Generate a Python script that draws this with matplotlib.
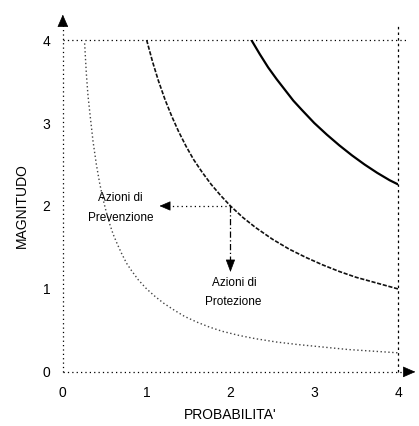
import matplotlib
matplotlib.use('Agg')
import matplotlib.pyplot as plt

plt.rcParams['font.family'] = ['Liberation Sans', 'DejaVu Sans']

# curves (probabilita', magnitudo)
high_x = [2.25, 2.35, 2.45, 2.55, 2.65, 2.75, 2.85, 3.0, 3.15, 3.3, 3.45, 3.6, 3.75, 3.9, 4.0]
high_y = [4.0, 3.83, 3.67, 3.53, 3.4, 3.27, 3.16, 3.0, 2.86, 2.73, 2.61, 2.5, 2.4, 2.31, 2.26]

mid_x = [1.0, 1.07, 1.14, 1.22, 1.3, 1.38, 1.47, 1.56, 1.66, 1.77, 1.88, 2.0, 2.15, 2.3, 2.5,
         2.7, 2.9, 3.1, 3.3, 3.5, 3.75, 4.0]
mid_y = [4.0, 3.74, 3.51, 3.28, 3.08, 2.9, 2.72, 2.56, 2.41, 2.26, 2.13, 2.0, 1.86, 1.74, 1.6,
         1.48, 1.38, 1.29, 1.21, 1.14, 1.07, 1.0]

low_x = [0.26, 0.28, 0.30, 0.33, 0.36, 0.40, 0.44, 0.48, 0.52, 0.56, 0.60, 0.65, 0.70, 0.76,
         0.82, 0.90, 1.0, 1.1, 1.2, 1.32, 1.45, 1.6, 1.75, 1.9, 2.1, 2.3, 2.55, 2.8, 3.1, 3.4,
         3.7, 4.0]
low_y = [3.96, 3.6, 3.33, 3.05, 2.78, 2.5, 2.27, 2.08, 1.92, 1.78, 1.66, 1.54, 1.43, 1.31,
         1.22, 1.11, 1.0, 0.91, 0.83, 0.75, 0.67, 0.6, 0.54, 0.49, 0.44, 0.4, 0.36, 0.33, 0.3,
         0.27, 0.25, 0.23]

ticks = [0, 1, 2, 3, 4]
tick_labels = ['0', '1', '2', '3', '4']

fig = plt.figure(figsize=(4.19, 4.26), dpi=100)
ax = fig.add_axes([0.150, 0.127, 0.800, 0.779])
ax.set_xlim(0, 4)
ax.set_ylim(0, 4)
for s in ax.spines.values():
    s.set_visible(False)

dot = (0, (1, 2.5))
# frame
ax.plot([0, 0], [0, 4.2], color='black', lw=0.9, ls=dot, clip_on=False)
ax.plot([0, 4.12], [0, 0], color='black', lw=0.9, ls=dot, clip_on=False)
ax.plot([0, 4.1], [4, 4], color='black', lw=0.9, ls=dot, clip_on=False)
ax.plot([4, 4], [0, 4.18], color='black', lw=0.9, ls=(0, (2, 2.5)), clip_on=False)

# axis arrow heads
ax.annotate('', xy=(0, 4.34), xytext=(0, 4.15), annotation_clip=False,
            arrowprops=dict(arrowstyle='-|>,head_length=0.8,head_width=0.35', color='black', lw=0.5))
ax.annotate('', xy=(4.24, 0), xytext=(4.08, 0), annotation_clip=False,
            arrowprops=dict(arrowstyle='-|>,head_length=0.8,head_width=0.35', color='black', lw=0.5))

# iso-risk curves
ax.plot(high_x, high_y, color='black', lw=1.6, solid_capstyle='round', solid_joinstyle='round')
ax.plot(mid_x, mid_y, color='#111111', lw=1.2, ls=(0, (2.5, 1)))
ax.plot(low_x, low_y, color='#444444', lw=1.0, ls=(0, (1, 1.8)))

# actions
ax.plot([1.25, 2.0], [2.0, 2.0], color='black', lw=0.9, ls=dot)
ax.annotate('', xy=(1.12, 2.0), xytext=(1.28, 2.0),
            arrowprops=dict(arrowstyle='-|>,head_length=0.7,head_width=0.3', color='black', lw=0.5))
ax.plot([2.0, 2.0], [2.0, 1.3], color='black', lw=0.9, ls=(0, (5, 2, 1, 2)))
ax.annotate('', xy=(2.0, 1.17), xytext=(2.0, 1.33),
            arrowprops=dict(arrowstyle='-|>,head_length=0.8,head_width=0.3', color='black', lw=0.5))

ax.text(0.68, 2.1, 'Azioni di', ha='center', va='center', fontsize=8.5)
ax.text(0.69, 1.86, 'Prevenzione', ha='center', va='center', fontsize=8.5)
ax.text(2.05, 1.07, 'Azioni di', ha='center', va='center', fontsize=8.5)
ax.text(2.03, 0.84, 'Protezione', ha='center', va='center', fontsize=8.5)

ax.set_xticks(ticks)
ax.set_xticklabels(tick_labels, fontsize=10)
ax.set_yticks(ticks)
ax.set_yticklabels(tick_labels, fontsize=10)
ax.tick_params(axis='x', length=0, pad=10)
ax.tick_params(axis='y', length=0, pad=9)

ax.set_xlabel("PROBABILITA'", fontsize=10, labelpad=6)
ax.set_ylabel('MAGNITUDO', fontsize=10, labelpad=10)

fig.savefig('out.png', dpi=100)
